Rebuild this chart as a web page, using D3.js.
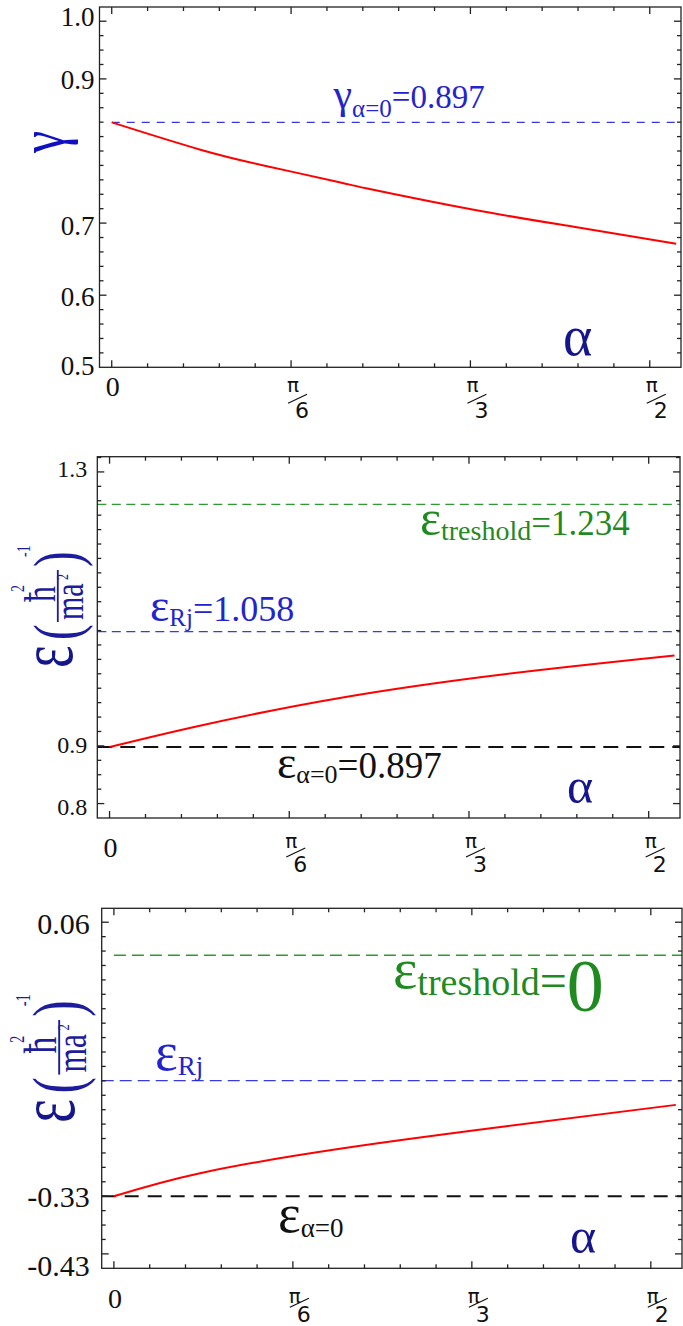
<!DOCTYPE html>
<html>
<head>
  <meta charset="utf-8">
  <style>
    body { margin: 0; background: #fff; }
    svg { display: block; }
  </style>
</head>
<body>
  <div id="chart"></div>
  <script src="https://d3js.org/d3.v7.min.js"></script>
  <script>
    // ---- data ----
    var alphaMajor = [0, Math.PI / 6, Math.PI / 3, Math.PI / 2];
    var alphaDen = ["", "6", "3", "2"];

    // panel 1 : gamma(alpha)
    var gammaAlpha = [0, 0.259, 0.453, 0.668, 0.746, 1.057, 1.349, 1.648];
    var gammaValues = [0.8397, 0.8018, 0.7789, 0.7564, 0.7480, 0.7185, 0.6949, 0.6713];
    var gammaRef = 0.8397;
    var gammaBreaks = [0.5, 0.6, 0.7, 0.9, 1.0];
    var gammaLabels = ["0.5", "0.6", "0.7", "0.9", "1.0"];

    // panel 2 : epsilon(alpha)
    var epsAlpha = [0, 0.263, 0.671, 1.156, 1.646];
    var epsValues = [0.898, 0.9295, 0.9700, 1.0050, 1.032];
    var epsThreshold = 1.2526, epsRj = 1.0668, epsAlpha0 = 0.898;
    var epsBreaks = [0.8, 0.9, 1.3];
    var epsLabels = ["0.8", "0.9", "1.3"];

    // panel 3 : epsilon(alpha), shifted
    var eps3Alpha = [0, 0.252, 0.661, 1.148, 1.644];
    var eps3Values = [-0.33, -0.2972, -0.2625, -0.2305, -0.2];
    var eps3Threshold = 0.013, eps3Rj = -0.1655, eps3Alpha0 = -0.33;
    var eps3Breaks = [-0.43, -0.33, 0.06];
    var eps3Labels = ["-0.43", "-0.33", "0.06"];

    // ---- layout ----
    var W = 683, H = 1326;
    var step = 14.42;            // spacing of the minor y ticks
    var xDomain = [-0.0357, 1.662];
    var blue = "#2424cc", green = "#1f8a1f", navy = "#16168c", red = "#ff0000";
    var serif = "Liberation Serif, DejaVu Serif, Times New Roman, serif";
    var sans = "DejaVu Sans, sans-serif";

    var svg = d3.select("#chart").append("svg")
        .attr("width", W)
        .attr("height", H)
        .style("font-family", serif);

    var panels = [
      { left: 99.5, top: 7, width: 581.5, height: 360.3,
        breaks: gammaBreaks, breakIdx: [0, 5, 10, 20, 24], labels: gammaLabels,
        nudge: [-2, 1, 2, 1, -5], labelSize: 27, labelGap: 5,
        alpha: gammaAlpha, values: gammaValues,
        refs: [{ v: gammaRef, color: "#3636e0", dash: "8,7", w: 1.3, from: 0 }],
        zeroBase: 29, piBase: 25, denBase: 51 },
      { left: 97.3, top: 456.7, width: 582.7, height: 361.3,
        breaks: epsBreaks, breakIdx: [1, 5, 24], labels: epsLabels,
        nudge: [3, -1, -3], labelSize: 24, labelGap: 10,
        alpha: epsAlpha, values: epsValues,
        refs: [
          { v: epsThreshold, color: "#2f9a2f", dash: "9,5.5", w: 1.3, from: xDomain[0] },
          { v: epsRj, color: "#3a3ae0", dash: "9,5.5", w: 1.3, from: xDomain[0] },
          { v: epsAlpha0, color: "#111", dash: "15,8", w: 2, from: xDomain[0] }
        ],
        zeroBase: 39, piBase: 30, denBase: 54 },
      { left: 101.7, top: 908.3, width: 580.3, height: 360,
        breaks: eps3Breaks, breakIdx: [1, 5, 24], labels: eps3Labels,
        nudge: [12, 0, 1], labelSize: 30, labelGap: 12,
        alpha: eps3Alpha, values: eps3Values,
        refs: [
          { v: eps3Threshold, color: "#2f9a2f", dash: "12,6", w: 1.3, from: 0 },
          { v: eps3Rj, color: "#3a3ae0", dash: "12,6", w: 1.3, from: xDomain[0] },
          { v: eps3Alpha0, color: "#111", dash: "14,9", w: 2, from: xDomain[0] }
        ],
        zeroBase: 40, piBase: 35, denBase: 54 }
    ];

    function rich(g, x, parts, fill) {
      var t = g.append("text").attr("x", x).attr("fill", fill).style("font-family", serif);
      parts.forEach(function (p) {
        t.append("tspan").attr("y", p.y).style("font-size", p.size + "px").text(p.t);
      });
      return t;
    }

    panels.forEach(function (p, pi) {
      var g = svg.append("g").attr("transform", "translate(" + p.left + "," + p.top + ")");
      p.g = g;

      var x = d3.scaleLinear().domain(xDomain).range([0, p.width]);
      // piecewise scale: the hand placed labels are not evenly spaced
      var y = d3.scaleLinear().domain(p.breaks)
          .range(p.breakIdx.map(function (k) { return p.height - k * step; }));
      var grid = d3.scaleLinear().domain([0, 1]).range([p.height, p.height - step]);
      p.x = x; p.y = y;

      // reference lines
      p.refs.forEach(function (r) {
        g.append("line")
            .attr("x1", x(r.from)).attr("x2", x(xDomain[1]))
            .attr("y1", y(r.v)).attr("y2", y(r.v))
            .attr("stroke", r.color).attr("stroke-width", r.w)
            .attr("stroke-dasharray", r.dash);
      });

      // curve
      var line = d3.line()
          .x(function (d) { return x(d[0]); })
          .y(function (d) { return y(d[1]); })
          .curve(d3.curveNatural);
      g.append("path")
          .datum(d3.zip(p.alpha, p.values))
          .attr("d", line)
          .attr("fill", "none")
          .attr("stroke", red)
          .attr("stroke-width", 2);

      // frame
      g.append("rect")
          .attr("width", p.width).attr("height", p.height)
          .attr("fill", "none").attr("stroke", "#222").attr("stroke-width", 1.3);

      // x ticks (bottom and top), every pi/30
      var xt = d3.range(0, 16).map(function (i) { return i * Math.PI / 30; });
      xt.forEach(function (a, i) {
        var len = (i % 5 === 0) ? 7 : 4;
        g.append("line").attr("x1", x(a)).attr("x2", x(a))
            .attr("y1", p.height).attr("y2", p.height - len)
            .attr("stroke", "#222").attr("stroke-width", 1.3);
        g.append("line").attr("x1", x(a)).attr("x2", x(a))
            .attr("y1", 0).attr("y2", len)
            .attr("stroke", "#222").attr("stroke-width", 1.3);
      });

      // y ticks (left and right)
      var nMinor = Math.floor(p.height / step);
      d3.range(1, nMinor + 1).forEach(function (k) {
        var major = p.breakIdx.indexOf(k) >= 0;
        var len = major ? 7 : 4;
        var yy = grid(k);
        g.append("line").attr("x1", 0).attr("x2", len)
            .attr("y1", yy).attr("y2", yy)
            .attr("stroke", "#222").attr("stroke-width", 1.3);
        g.append("line").attr("x1", p.width).attr("x2", p.width - len)
            .attr("y1", yy).attr("y2", yy)
            .attr("stroke", "#222").attr("stroke-width", 1.3);
      });

      // y tick labels
      p.breaks.forEach(function (v, i) {
        g.append("text")
            .attr("x", -p.labelGap)
            .attr("y", y(v) + p.nudge[i])
            .attr("dy", "0.35em")
            .attr("text-anchor", "end")
            .style("font-family", serif)
            .style("font-size", p.labelSize + "px")
            .attr("fill", "#111")
            .text(p.labels[i]);
      });

      // x tick labels: 0, pi/6, pi/3, pi/2
      alphaMajor.forEach(function (a, i) {
        var t = x(a);
        if (i === 0) {
          g.append("text").attr("x", t + 1).attr("y", p.height + p.zeroBase)
              .attr("text-anchor", "middle").style("font-family", serif).style("font-size", "28px")
              .attr("fill", "#111").text("0");
          return;
        }
        g.append("text").style("font-family", sans)
            .attr("x", t + 2).attr("y", p.height + p.piBase)
            .attr("text-anchor", "middle").style("font-size", "20px")
            .attr("fill", "#111").text("π");
        g.append("line")
            .attr("x1", t - 3).attr("y1", p.height + p.denBase - 15)
            .attr("x2", t + 16).attr("y2", p.height + p.denBase - 24)
            .attr("stroke", "#111").attr("stroke-width", 1.2);
        g.append("text").style("font-family", sans)
            .attr("x", t + 11).attr("y", p.height + p.denBase)
            .attr("text-anchor", "middle").style("font-size", "22px")
            .attr("fill", "#111").text(alphaDen[i]);
      });
    });

    // ---- annotations ----
    var g1 = panels[0].g, g2 = panels[1].g, g3 = panels[2].g;

    // panel 1
    rich(g1, 234, [
      { t: "γ", size: 42, y: 101 },
      { t: "α=0", size: 25, y: 110 },
      { t: "=0.897", size: 33, y: 101 }
    ], blue);
    g1.append("text")
        .attr("transform", "translate(-43.5,135) rotate(-90) scale(1,1.3)")
        .attr("text-anchor", "middle").attr("y", 6).style("font-family", serif)
        .style("font-size", "50px").attr("fill", "#1010c0").text("γ");
    g1.append("text").attr("x", 463.5).attr("y", 348).style("font-family", serif)
        .style("font-size", "56px").attr("fill", navy).text("α");

    // panel 2
    rich(g2, 322.7, [
      { t: "ε", size: 50, y: 78.3 },
      { t: "treshold", size: 28, y: 83.3 },
      { t: "=1.234", size: 35, y: 78.3 }
    ], green);
    rich(g2, 52.7, [
      { t: "ε", size: 46, y: 164.3 },
      { t: "Rj", size: 25, y: 169 },
      { t: "=1.058", size: 36, y: 164.3 }
    ], blue);
    rich(g2, 179.7, [
      { t: "ε", size: 46, y: 321.3 },
      { t: "α=0", size: 26, y: 326 },
      { t: "=0.897", size: 37, y: 321.3 }
    ], "#111");
    g2.append("text").attr("x", 469.7).attr("y", 346.3).style("font-family", serif)
        .style("font-size", "50px").attr("fill", navy).text("α");

    // panel 3
    rich(g3, 291.3, [
      { t: "ε", size: 58, y: 79.7 },
      { t: "treshold", size: 38, y: 86.7 },
      { t: "=", size: 48, y: 89 },
      { t: "0", size: 74, y: 103 }
    ], green);
    rich(g3, 53.3, [
      { t: "ε", size: 54, y: 161.7 },
      { t: "Rj", size: 27, y: 166.7 }
    ], blue);
    rich(g3, 176.3, [
      { t: "ε", size: 54, y: 323.7 },
      { t: "α=0", size: 27, y: 328.7 }
    ], "#111");
    g3.append("text").attr("x", 468.3).attr("y", 344.7).style("font-family", serif)
        .style("font-size", "50px").attr("fill", navy).text("α");

    // rotated y-axis label  ε (ħ²/ma²)^-1
    function epsAxisLabel(g, tx, ty, s) {
      var lg = g.append("g")
          .attr("transform", "translate(" + tx + "," + ty + ") rotate(-90) scale(" + s + "," + (s * 1.4) + ")")
          .attr("fill", "#1c1c9c").style("font-family", serif);
      lg.append("text").attr("x", 2).attr("y", -13).style("font-size", "54px").attr("fill", navy).text("ε");
      lg.append("text").attr("x", 30).attr("y", -8).style("font-size", "47px").text("(");
      lg.append("text").attr("x", 68).attr("y", -25).style("font-size", "32px").text("ħ");
      lg.append("text").attr("x", 78).attr("y", -47).style("font-size", "14px").text("2");
      lg.append("line").attr("x1", 48).attr("x2", 100).attr("y1", -23).attr("y2", -23)
          .attr("stroke", "#1c1c9c").attr("stroke-width", 1.3);
      lg.append("text").attr("x", 50).attr("y", -5).style("font-size", "30px").text("ma");
      lg.append("text").attr("x", 90).attr("y", -16).style("font-size", "12px").text("2");
      lg.append("text").attr("x", 103).attr("y", -8).style("font-size", "47px").text(")");
      lg.append("text").attr("x", 113).attr("y", -43).style("font-size", "14px").text("-1");
    }
    epsAxisLabel(g2, -7.3, 213.3, 1);
    epsAxisLabel(g3, -8.7, 216.7, 1.05);
  </script>
</body>
</html>
